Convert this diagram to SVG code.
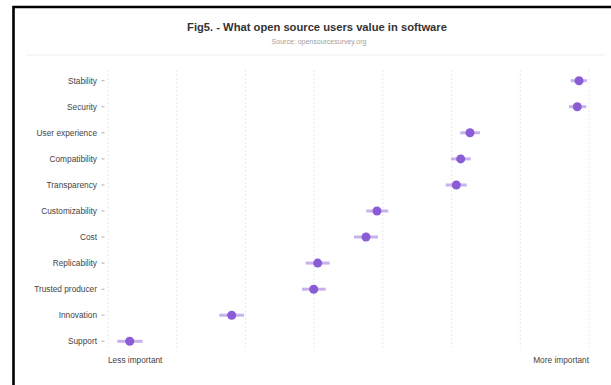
<svg xmlns="http://www.w3.org/2000/svg" width="611" height="385" viewBox="0 0 611 385">
<style>
text{font-family:"Liberation Sans",Arial,sans-serif}
.lbl{font-size:8.3px;fill:#444;text-anchor:end}
.grid{stroke:#e4e4e4;stroke-width:0.8;stroke-dasharray:2,2}
.tick{stroke:#999;stroke-width:0.8}
.bar{stroke:#c8b2ee;stroke-width:3;stroke-linecap:butt}
.dot{fill:#8a5cd6}
.axis{font-size:8.3px;fill:#444}
</style>
<rect width="611" height="385" fill="#fff"/>
<path d="M13.5 385V7H611" fill="none" stroke="#000" stroke-width="2.6"/>
<text x="317" y="31" text-anchor="middle" font-size="11.2" font-weight="bold" fill="#333">Fig5. - What open source users value in software</text>
<text x="319" y="43.5" text-anchor="middle" font-size="7" fill="#a0a0a0">Source: opensourcesurvey.org</text>
<line x1="26" y1="55" x2="605" y2="55" stroke="#efefef" stroke-width="1"/>
<g id="grid">
<line class="grid" x1="108" y1="70" x2="108" y2="351"/>
<line class="grid" x1="176.7" y1="70" x2="176.7" y2="351"/>
<line class="grid" x1="245.4" y1="70" x2="245.4" y2="351"/>
<line class="grid" x1="314.1" y1="70" x2="314.1" y2="351"/>
<line class="grid" x1="382.9" y1="70" x2="382.9" y2="351"/>
<line class="grid" x1="451.6" y1="70" x2="451.6" y2="351"/>
<line class="grid" x1="520.3" y1="70" x2="520.3" y2="351"/>
<line class="grid" x1="589" y1="70" x2="589" y2="351"/>
</g>
<g id="labels">
<text class="lbl" x="97" y="83.5">Stability</text>
<text class="lbl" x="97" y="109.5">Security</text>
<text class="lbl" x="97" y="135.5">User experience</text>
<text class="lbl" x="97" y="161.7">Compatibility</text>
<text class="lbl" x="97" y="187.9">Transparency</text>
<text class="lbl" x="97" y="214">Customizability</text>
<text class="lbl" x="97" y="240">Cost</text>
<text class="lbl" x="97" y="266">Replicability</text>
<text class="lbl" x="97" y="292.2">Trusted producer</text>
<text class="lbl" x="97" y="318.2">Innovation</text>
<text class="lbl" x="97" y="344.2">Support</text>
</g>
<g id="ticks">
<line class="tick" x1="101.5" y1="80.7" x2="104.5" y2="80.7"/>
<line class="tick" x1="101.5" y1="106.7" x2="104.5" y2="106.7"/>
<line class="tick" x1="101.5" y1="132.8" x2="104.5" y2="132.8"/>
<line class="tick" x1="101.5" y1="158.9" x2="104.5" y2="158.9"/>
<line class="tick" x1="101.5" y1="185" x2="104.5" y2="185"/>
<line class="tick" x1="101.5" y1="211" x2="104.5" y2="211"/>
<line class="tick" x1="101.5" y1="237" x2="104.5" y2="237"/>
<line class="tick" x1="101.5" y1="263.1" x2="104.5" y2="263.1"/>
<line class="tick" x1="101.5" y1="289.2" x2="104.5" y2="289.2"/>
<line class="tick" x1="101.5" y1="315.2" x2="104.5" y2="315.2"/>
<line class="tick" x1="101.5" y1="341.3" x2="104.5" y2="341.3"/>
</g>
<g id="stability"><line class="bar" x1="570.7" y1="80.7" x2="587" y2="80.7"/><circle class="dot" cx="579" cy="80.7" r="4.5"/></g>
<g id="security"><line class="bar" x1="569" y1="106.7" x2="586.3" y2="106.7"/><circle class="dot" cx="577.3" cy="106.7" r="4.5"/></g>
<g id="user-experience"><line class="bar" x1="460.3" y1="132.8" x2="480" y2="132.8"/><circle class="dot" cx="470" cy="132.8" r="4.5"/></g>
<g id="compatibility"><line class="bar" x1="451" y1="158.9" x2="470.7" y2="158.9"/><circle class="dot" cx="460.7" cy="158.9" r="4.5"/></g>
<g id="transparency"><line class="bar" x1="445.7" y1="185" x2="466.7" y2="185"/><circle class="dot" cx="456.3" cy="185" r="4.5"/></g>
<g id="customizability"><line class="bar" x1="366.3" y1="211" x2="388.3" y2="211"/><circle class="dot" cx="377" cy="211" r="4.5"/></g>
<g id="cost"><line class="bar" x1="354" y1="237" x2="378" y2="237"/><circle class="dot" cx="366" cy="237" r="4.5"/></g>
<g id="replicability"><line class="bar" x1="305.7" y1="263.1" x2="329.7" y2="263.1"/><circle class="dot" cx="317.7" cy="263.1" r="4.5"/></g>
<g id="trusted-producer"><line class="bar" x1="302" y1="289.2" x2="325.7" y2="289.2"/><circle class="dot" cx="313.7" cy="289.2" r="4.5"/></g>
<g id="innovation"><line class="bar" x1="219.3" y1="315.2" x2="244" y2="315.2"/><circle class="dot" cx="231.7" cy="315.2" r="4.5"/></g>
<g id="support"><line class="bar" x1="117.3" y1="341.3" x2="142.7" y2="341.3"/><circle class="dot" cx="129.7" cy="341.3" r="4.5"/></g>
<text class="axis" x="108" y="362.5">Less important</text>
<text class="axis" x="589" y="362.5" text-anchor="end">More important</text>
</svg>
